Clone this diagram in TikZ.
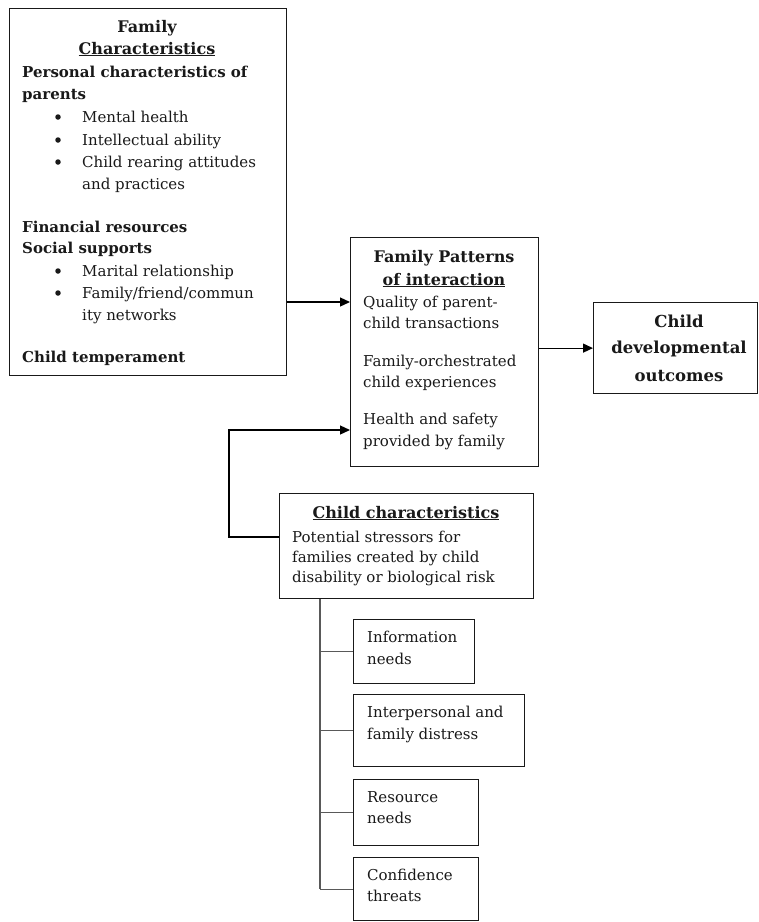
\documentclass[tikz,border=0pt]{standalone}
\usepackage{fontspec}
\setmainfont{DejaVu Serif}
\usetikzlibrary{arrows.meta}
\newcommand\myfs{\fontsize{15}{18}\selectfont}
\newcommand\myttl{\fontsize{16}{19}\selectfont}
\newcommand\mybigfs{\fontsize{16.5}{20}\selectfont}
\begin{document}
\begin{tikzpicture}[x=1pt,y=-1pt,
  box/.style={draw=black!90, line width=1.2pt, anchor=north west, inner sep=0pt},
  t/.style={anchor=base west, inner sep=0pt, font=\myfs, text=black!90},
  tb/.style={anchor=base west, inner sep=0pt, font=\myfs\bfseries, text=black!90},
  tc/.style={anchor=base, inner sep=0pt, font=\myttl\bfseries, text=black!90},
  tbig/.style={anchor=base, inner sep=0pt, font=\mybigfs\bfseries, text=black!90},
  bul/.style={circle, fill=black!90, inner sep=0pt, minimum size=5.5pt},
  arr/.style={line width=1.2pt, -{Triangle[length=10pt,width=9pt]}},
  tree/.style={line width=1.2pt, draw=black!65}]
\useasboundingbox (0,0) rectangle (759,922);
% boxes
\node[box, minimum width=277pt, minimum height=367pt] (fc) at (9,8) {};
\node[box, minimum width=188pt, minimum height=229pt] (fp) at (350,237) {};
\node[box, minimum width=164pt, minimum height=91pt] (cd) at (593,302) {};
\node[box, minimum width=254pt, minimum height=105pt] (cc) at (279,493) {};
\node[box, minimum width=121pt, minimum height=64pt] (b1) at (353,619) {};
\node[box, minimum width=171pt, minimum height=72pt] (b2) at (353,694) {};
\node[box, minimum width=125pt, minimum height=66pt] (b3) at (353,779) {};
\node[box, minimum width=125pt, minimum height=63pt] (b4) at (353,857) {};
% family characteristics text
\node[tc] (fc1) at (147,32) {Family};
\node[tc] (fc2) at (147,54) {\underline{Characteristics}};
\node[tb] (fc3) at (22,77) {Personal characteristics of};
\node[tb] (fc4) at (22,99) {parents};
\node[bul] (fcb1) at (58,117) {};
\node[t] (fc5) at (82,122) {Mental health};
\node[bul] (fcb2) at (58,140) {};
\node[t] (fc6) at (82,145) {Intellectual ability};
\node[bul] (fcb3) at (58,162) {};
\node[t] (fc7) at (82,167) {Child rearing attitudes};
\node[t] (fc8) at (82,189) {and practices};
\node[tb] (fc9) at (22,232) {Financial resources};
\node[tb] (fc10) at (22,253) {Social supports};
\node[bul] (fcb4) at (58,271) {};
\node[t] (fc11) at (82,276) {Marital relationship};
\node[bul] (fcb5) at (58,293) {};
\node[t] (fc12) at (82,298) {Family/friend/commun};
\node[t] (fc13) at (82,320) {ity networks};
\node[tb] (fc14) at (22,362) {Child temperament};
% family patterns text
\node[tc] (fp1) at (444,262) {Family Patterns};
\node[tc] (fp2) at (444,285) {\underline{of interaction}};
\node[t] (fp3) at (363,307) {Quality of parent-};
\node[t] (fp4) at (363,328) {child transactions};
\node[t] (fp5) at (363,366) {Family-orchestrated};
\node[t] (fp6) at (363,387) {child experiences};
\node[t] (fp7) at (363,424) {Health and safety};
\node[t] (fp8) at (363,446) {provided by family};
% child developmental outcomes
\node[tbig] (cd1) at (679,327) {Child};
\node[tbig] (cd2) at (679,353) {developmental};
\node[tbig] (cd3) at (679,381) {outcomes};
% child characteristics
\node[tc] (cc1) at (406,518) {\underline{Child characteristics}};
\node[t] (cc2) at (292,542) {Potential stressors for};
\node[t] (cc3) at (292,562) {families created by child};
\node[t] (cc4) at (292,582) {disability or biological risk};
% small boxes
\node[t] (b1a) at (367,642) {Information};
\node[t] (b1b) at (367,664) {needs};
\node[t] (b2a) at (367,717) {Interpersonal and};
\node[t] (b2b) at (367,739) {family distress};
\node[t] (b3a) at (367,802) {Resource};
\node[t] (b3b) at (367,823) {needs};
\node[t] (b4a) at (367,880) {Confidence};
\node[t] (b4b) at (367,901) {threats};
% connectors
\coordinate (y1) at (0,302);
\coordinate (y3) at (0,430);
\coordinate (y4) at (0,537);
\coordinate (xl) at (229,0);
\coordinate (xt) at (320,0);
\draw[arr] (fc.east |- y1) -- (fp.west |- y1);
\draw[arr] (fp.east |- cd.west) -- (cd.west);
\draw[arr] (cc.west |- y4) -- (xl |- y4) -- (xl |- y3) -- (fp.west |- y3);
\draw[tree] (cc.south -| xt) -- (xt |- b4.west);
\draw[tree] (xt |- b1.west) -- (b1.west);
\draw[tree] (xt |- b2.west) -- (b2.west);
\draw[tree] (xt |- b3.west) -- (b3.west);
\draw[tree] (xt |- b4.west) -- (b4.west);
\end{tikzpicture}
\end{document}
